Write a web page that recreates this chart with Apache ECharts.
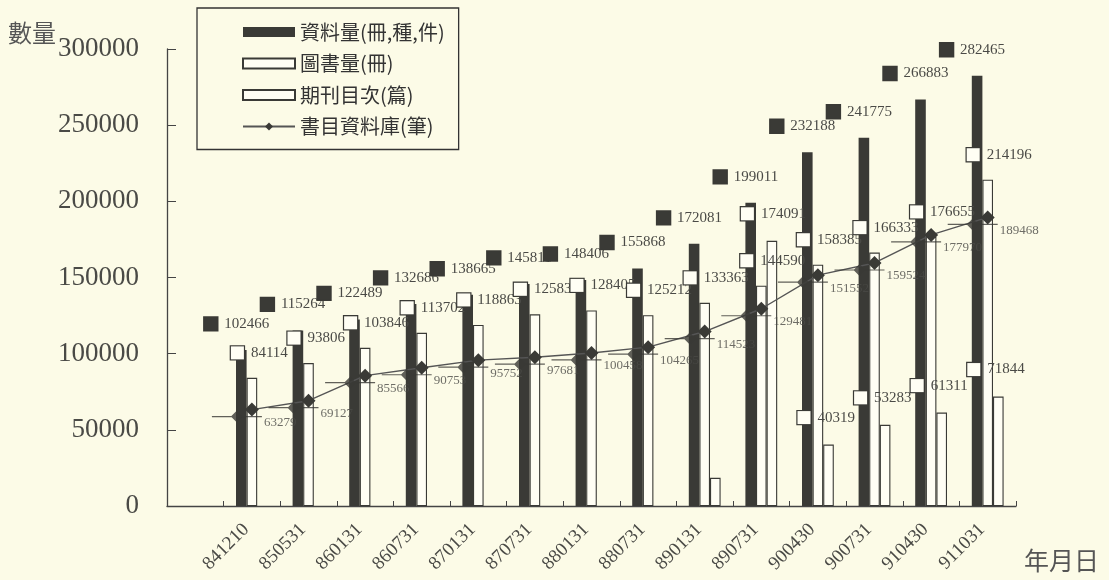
<!DOCTYPE html>
<html>
<head>
<meta charset="utf-8">
<script src="https://cdn.jsdelivr.net/npm/echarts@6/dist/echarts.min.js"></script>
<style>
html,body{margin:0;padding:0;background:#fcfbe7;}
#c{width:1109px;height:580px;}
</style>
</head>
<body>
<div id="c"></div>
<script>
// ---- data ----
const categories = ['841210','850531','860131','860731','870131','870731','880131','880731','890131','890731','900430','900731','910430','911031'];
const totalItems = [102466,115264,122489,132686,138665,145811,148406,155868,172081,199011,232188,241775,266883,282465];
const books = [84114,93806,103846,113702,118863,125834,128405,125212,133363,144590,158385,166333,176655,214196];
const journals = [null,null,null,null,null,null,null,null,18500,174091,40319,53283,61311,71844];
const journalLabeled = [false,false,false,false,false,false,false,false,false,true,true,true,true,true];
const biblio = [63279,69127,85566,90753,95752,97681,100458,104265,114523,129481,151552,159524,177970,189468];
const yTicks = {min:0, max:300000, interval:50000};
const seriesNames = ['資料量(冊,種,件)','圖書量(冊)','期刊目次(篇)','書目資料庫(筆)'];
const yTitle = '數量';
const xTitle = '年月日';

// an empty leading band, as in the original drawing
const axisCats = [''].concat(categories);
const pad = arr => [null].concat(arr);

const serif = 'Liberation Serif';
const cjk = 'Noto Sans CJK TC';
const ink = '#3a3a36';
const txt = '#4a4a46';

function boxLabel(fill, offset, fmt) {
  return {
    show: true, position: 'top', distance: 0, align: 'left', verticalAlign: 'middle',
    offset: offset,
    formatter: fmt,
    rich: {
      sq: {width: 13, height: 13, backgroundColor: fill, borderColor: ink, borderWidth: 1.2},
      t: {fontFamily: serif, fontSize: 15, color: txt, padding: [0, 0, 0, 7]}
    }
  };
}

const chart = echarts.init(document.getElementById('c'));
chart.setOption({
  backgroundColor: '#fcfbe7',
  animation: false,
  title: {
    text: yTitle, left: 8, top: 21, padding: 0,
    textStyle: {fontFamily: cjk, fontSize: 24, fontWeight: 'normal', color: '#555'}
  },
  grid: {left: 167, right: 93, top: 49, bottom: 74, containLabel: false},
  legend: {
    data: [
      {name: seriesNames[0], icon: 'rect'},
      {name: seriesNames[1], icon: 'rect'},
      {name: seriesNames[2], icon: 'rect'},
      {name: seriesNames[3]}
    ],
    orient: 'vertical', left: 197, top: 8,
    padding: [14, 14, 13, 45],
    itemWidth: 52, itemHeight: 10, itemGap: 11.5,
    borderColor: '#333', borderWidth: 1.3,
    textStyle: {fontFamily: cjk, fontSize: 20, color: '#333'}
  },
  xAxis: {
    type: 'category', data: axisCats, boundaryGap: true,
    name: xTitle, nameLocation: 'end', nameGap: 8,
    nameTextStyle: {fontFamily: cjk, fontSize: 25, color: '#555', align: 'left', verticalAlign: 'top', padding: [42, 0, 0, 0]},
    axisLine: {lineStyle: {color: '#444', width: 1.3}},
    axisTick: {show: true, inside: true, length: 5, lineStyle: {color: '#444'}},
    axisLabel: {interval: 0, rotate: 45, fontFamily: serif, fontSize: 19, color: txt, margin: 15, padding: [0, 8, 0, 0]}
  },
  yAxis: {
    type: 'value', min: yTicks.min, max: yTicks.max, interval: yTicks.interval,
    splitLine: {show: false},
    axisLine: {show: true, lineStyle: {color: '#444', width: 1.3}},
    axisTick: {show: true, inside: true, length: 9, lineStyle: {color: '#444'}},
    axisLabel: {fontFamily: serif, fontSize: 27, color: txt, margin: 28, formatter: v => String(v)}
  },
  series: [
    {
      name: seriesNames[0], type: 'bar', data: pad(totalItems),
      barWidth: 10.6, barGap: '0%',
      itemStyle: {color: ink},
      label: boxLabel(ink, [-37, -26], p => '{sq| }{t|' + p.value + '}')
    },
    {
      name: seriesNames[1], type: 'bar', data: pad(books),
      barWidth: 10.6, barGap: '0%',
      itemStyle: {color: '#fffef4', borderColor: ink, borderWidth: 1.1},
      label: boxLabel('#fffef4', [-21, -25], p => '{sq| }{t|' + p.value + '}')
    },
    {
      name: seriesNames[2], type: 'bar', data: pad(journals),
      barWidth: 10.6, barGap: '0%',
      itemStyle: {color: '#fffef4', borderColor: ink, borderWidth: 1.1},
      label: boxLabel('#fffef4', [-31, -27], p => journalLabeled[p.dataIndex - 1] ? '{sq| }{t|' + p.value + '}' : '')
    },
    {
      name: seriesNames[3], type: 'line', data: pad(biblio), z: 5,
      symbol: 'diamond', symbolSize: 14,
      itemStyle: {color: ink},
      lineStyle: {color: '#555', width: 1.4}
    },
    {
      type: 'scatter', data: pad(biblio), z: 6,
      symbol: 'path://M0,5.4H50V6.6H0Z M25,0L31,6L25,12L19,6Z',
      symbolSize: [50, 12], symbolOffset: [-15, 7],
      itemStyle: {color: ink},
      label: {show: true, position: 'right', distance: 2, offset: [0, 6], fontFamily: serif, fontSize: 13, color: txt}
    }
  ]
});
</script>
</body>
</html>
